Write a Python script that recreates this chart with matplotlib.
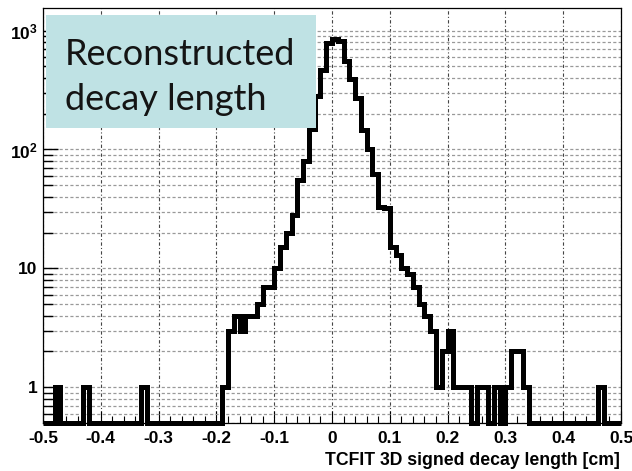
import numpy as np
import matplotlib
matplotlib.use('Agg')
import matplotlib.pyplot as plt
from matplotlib.ticker import MultipleLocator, LogLocator, NullFormatter
from matplotlib.patches import Rectangle

plt.rcParams['font.family'] = ['Liberation Sans', 'DejaVu Sans']
plt.rcParams['font.weight'] = 'bold'
plt.rcParams['mathtext.fontset'] = 'custom'
plt.rcParams['mathtext.rm'] = 'Liberation Sans:bold'
plt.rcParams['mathtext.it'] = 'Liberation Sans:bold'
plt.rcParams['mathtext.bf'] = 'Liberation Sans:bold'

# histogram: 100 bins from -0.5 to 0.5 cm
bin_lo, bin_hi, n_bins = -0.5, 0.5, 100
counts = [
    0, 0, 1, 0, 0, 0, 0, 1, 0, 0,           # -0.50 .. -0.41
    0, 0, 0, 0, 0, 0, 0, 1, 0, 0,           # -0.40 .. -0.31
    0, 0, 0, 0, 0, 0, 0, 0, 0, 0,           # -0.30 .. -0.21
    0, 1, 3, 4, 3, 4, 4, 5, 7, 7,           # -0.20 .. -0.11
    10, 15, 20, 28, 55, 80, 150, 280, 470, 790,   # -0.10 .. -0.01
    850, 820, 550, 390, 270, 147, 100, 62, 33, 32,  # 0.00 .. 0.09
    15, 13, 10, 9, 7, 5, 4, 3, 1, 2,        # 0.10 .. 0.19
    3, 1, 1, 1, 0, 1, 1, 0, 1, 0,           # 0.20 .. 0.29
    1, 2, 2, 1, 0, 0, 0, 0, 0, 0,           # 0.30 .. 0.39
    0, 0, 0, 0, 0, 0, 1, 0, 0, 0,           # 0.40 .. 0.49
]

x_ticks = [-0.5, -0.4, -0.3, -0.2, -0.1, 0.0, 0.1, 0.2, 0.3, 0.4, 0.5]
x_ticklabels = ['-0.5', '-0.4', '-0.3', '-0.2', '-0.1', '0', '0.1', '0.2', '0.3', '0.4', '0.5']
y_ticks = [1, 10, 100, 1000]
y_ticklabels = ['1', '10', r'$10^{2}$', r'$10^{3}$']
x_title = 'TCFIT 3D signed decay length [cm]'
box_lines = ['Reconstructed', 'decay length']

ymin, ymax = 0.5, 1550

fig = plt.figure(figsize=(6.32, 4.71), dpi=100)
W, H = 632, 471
ax = fig.add_axes([43 / W, 48 / H, 578 / W, 415 / H])

edges = np.linspace(bin_lo, bin_hi, n_bins + 1)
c = np.asarray(counts, dtype=float)
# empty bins are drawn along the bottom of the frame, like ROOT does
vals = np.where(c > 0, c, ymin)
ax.stairs(vals, edges, baseline=None, color='black', lw=3.6, zorder=3, clip_on=False)

ax.set_yscale('log')
ax.set_xlim(bin_lo, bin_hi)
ax.set_ylim(ymin, ymax)

ax.set_xticks(x_ticks, x_ticklabels)
ax.xaxis.set_minor_locator(MultipleLocator(0.02))
ax.set_yticks(y_ticks, y_ticklabels)
ax.yaxis.set_minor_locator(LogLocator(base=10, subs=np.arange(2, 10)))
ax.yaxis.set_minor_formatter(NullFormatter())

ax.tick_params(axis='x', which='major', direction='in', length=9, width=0.8, labelsize=12.5, pad=6)
ax.tick_params(axis='x', which='minor', direction='in', length=5, width=0.8)
ax.tick_params(axis='y', which='major', direction='in', length=11, width=1.0, labelsize=12.5, pad=4)
ax.tick_params(axis='y', which='minor', direction='in', length=7, width=1.0)

ax.grid(True, axis='x', which='major', color='#444444', ls=(0, (3, 2, 1, 2)), lw=0.8)
ax.grid(True, axis='y', which='both', color='#999999', ls=(0, (2.5, 1.8)), lw=0.9)
ax.set_axisbelow(True)

for s in ax.spines.values():
    s.set_linewidth(0.9)

# label box sits on top of the plot
ax.add_patch(Rectangle(((46 - 43) / 578, (423 - 128) / 415), (316 - 46) / 578, (128 - 15) / 415,
                       transform=ax.transAxes, facecolor='#bfe2e4', edgecolor='none',
                       zorder=10, clip_on=False))
fig.text(65 / W, 1 - 65 / H, box_lines[0], family='Lato', fontweight='normal', fontsize=26,
         va='baseline', ha='left', color='#141414', zorder=11)
fig.text(65 / W, 1 - 110 / H, box_lines[1], family='Lato', fontweight='normal', fontsize=26,
         va='baseline', ha='left', color='#141414', zorder=11)

fig.text(620 / W, 1 - 465 / H, x_title, ha='right', va='baseline', fontsize=12.7, fontweight='bold')

fig.savefig('out.png', dpi=100)
